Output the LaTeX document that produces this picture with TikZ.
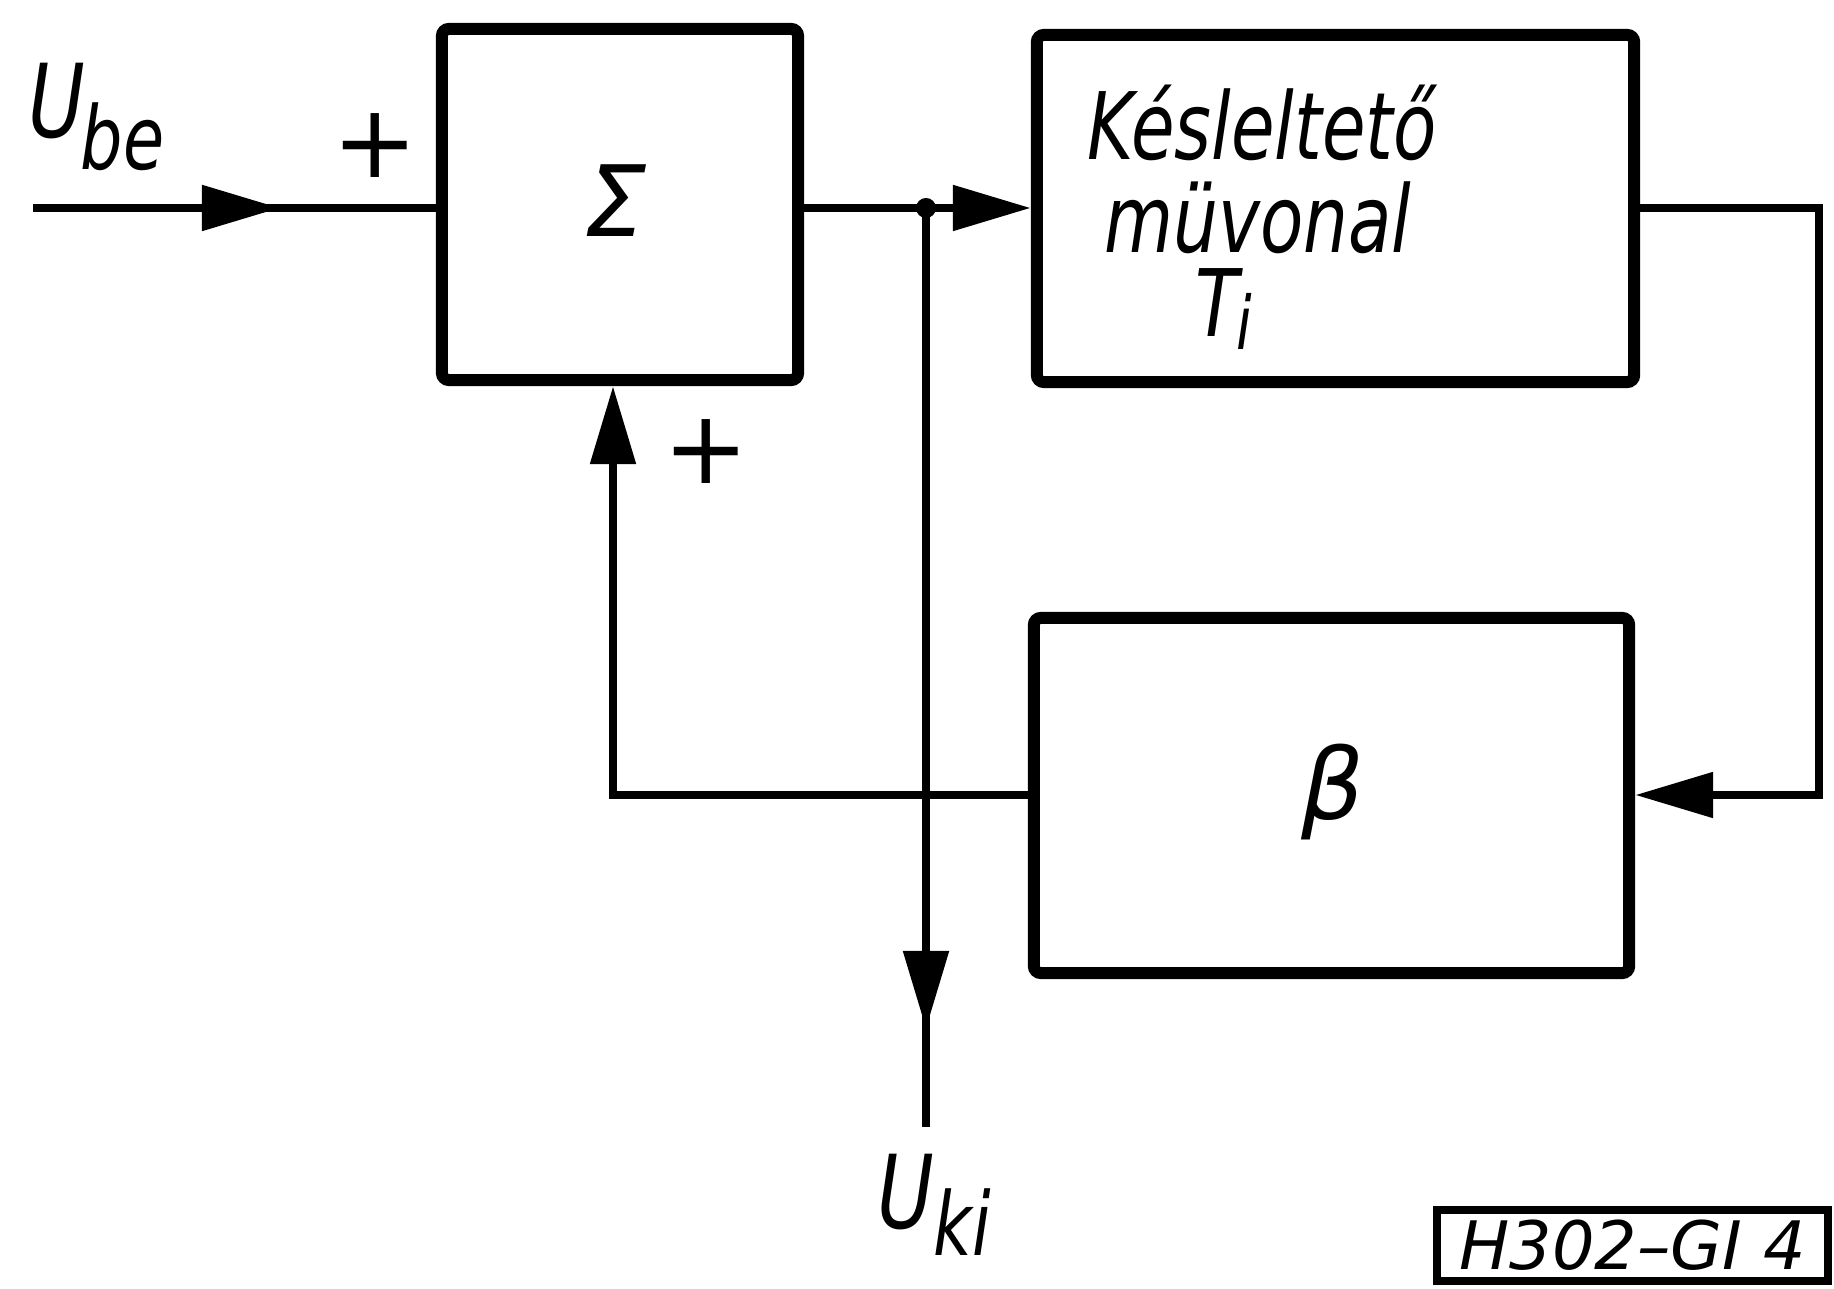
\documentclass[tikz,border=0pt]{standalone}
\usepackage{fontspec}
\setmainfont{DejaVu Sans}
\newfontfamily\lett[FakeStretch=0.76]{DejaVu Sans}
\usetikzlibrary{arrows.meta}
\begin{document}
\begin{tikzpicture}[x=0.01cm,y=-0.01cm,
  blk/.style={draw, line width=3.4pt, rounded corners=2pt, inner sep=0pt},
  wire/.style={line width=2.4pt},
  tip/.style={-{Triangle[length=0.78cm,width=0.44cm]}},
  lbl/.style={inner sep=0pt, font=\lett\itshape},
  plus/.style={inner sep=0pt, font=\fontsize{29}{29}\selectfont},
]
\fill[white] (0,0) rectangle (1834,1289);
\useasboundingbox (0,0) rectangle (1834,1289);

% blocks
\node[blk, minimum width=3.56cm, minimum height=3.51cm] (sum) at (620,204.5) {};
\node[blk, minimum width=5.97cm, minimum height=3.47cm] (delay) at (1335.5,208.5) {};
\node[blk, minimum width=5.95cm, minimum height=3.55cm] (beta) at (1331.5,795.5) {};

% block texts
\node[inner sep=0pt, font=\itshape\fontsize{28}{28}\selectfont] (sigma) at (616,201) {Σ};
\node[lbl, anchor=base, font=\lett\itshape\fontsize{26.5}{26.5}\selectfont] (t1) at (1262,160) {Késleltető};
\node[lbl, anchor=base, font=\lett\itshape\fontsize{26.5}{26.5}\selectfont] (t2) at (1258,253) {müvonal};
\node[lbl, anchor=base, font=\lett\itshape\fontsize{26.5}{26.5}\selectfont] (t3) at (1224,337) {T\kern-0.02em\raisebox{-0.25ex}{\fontsize{21}{21}\selectfont i}};
\node[inner sep=0pt, font=\itshape\fontsize{28}{28}\selectfont] (bt) at (1333,792) {β};

% coordinates
\coordinate (inS) at (33,208);
\coordinate (inA) at (280,208);
\coordinate (j) at (926,208);
\coordinate (c1) at (1819,208);
\coordinate (c2) at (1819,795);
\coordinate (f1) at (613,795);
\coordinate (o1) at (926,1029);
\coordinate (o2) at (926,1127);

% connectors
\draw[wire] (inS) -- (inS -| sum.west);
\draw[wire,tip] (inS) -- (inA);
\draw[wire] (sum.east |- j) -- (j);
\draw[wire,tip] (j) -- (j -| delay.west);
\draw[wire,tip] (delay.east |- c1) -- (c1) -- (c2) -- (c2 -| beta.east);
\draw[wire,tip] (beta.west |- f1) -- (f1) -- (f1 |- sum.south);
\draw[wire] (j) -- (o2);
\draw[wire,tip] (j) -- (o1);
\fill (j) circle (0.1cm);

% labels
\node[lbl, anchor=base west, font=\lett\itshape\fontsize{29}{29}\selectfont] (ubeU) at (28,138) {U};
\node[lbl, anchor=base west, font=\lett\itshape\fontsize{25}{25}\selectfont] (ubeS) at (80,170) {be};
\node[lbl, anchor=base west, font=\lett\itshape\fontsize{29}{29}\selectfont] (ukiU) at (877,1228) {U};
\node[lbl, anchor=base west, font=\lett\itshape\fontsize{25}{25}\selectfont] (ukiS) at (933,1255) {ki};
\node[plus] (p1) at (375,146) {+};
\node[plus] (p2) at (706,452) {+};

% tag
\node[draw, line width=2.3pt, minimum width=3.91cm, minimum height=0.71cm, inner sep=0pt,
      font=\itshape\fontsize{19}{19}\selectfont] (tag) at (1632.5,1245.5) {H302–GI 4};
\end{tikzpicture}
\end{document}
